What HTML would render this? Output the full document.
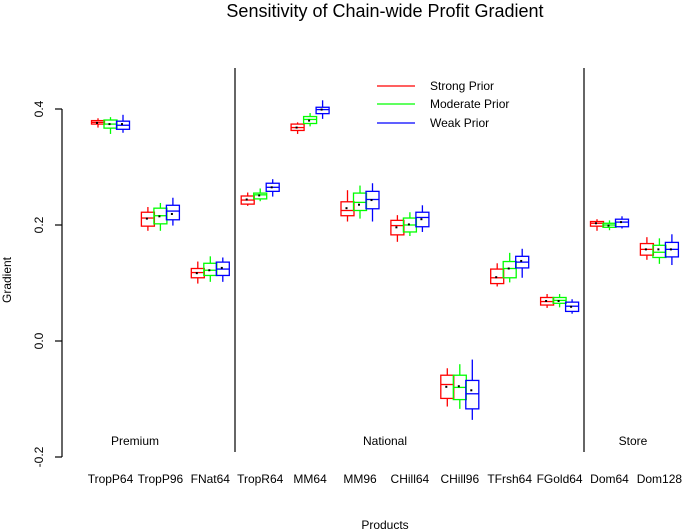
<!DOCTYPE html>
<html><head><meta charset="utf-8"><style>
body{margin:0;background:#fff}
svg{display:block;font-family:"Liberation Sans",sans-serif}
</style></head><body>
<svg id="chart" width="682" height="531" viewBox="0 0 682 531" xmlns="http://www.w3.org/2000/svg">
<text x="385" y="17" font-size="18" text-anchor="middle">Sensitivity of Chain-wide Profit Gradient</text>
<text transform="translate(11,280) rotate(-90)" font-size="12" text-anchor="middle">Gradient</text>
<text x="385" y="529" font-size="12" text-anchor="middle">Products</text>
<g id="axis"></g>
<g id="marks"></g>
<g>
 <g><line x1="377" y1="86" x2="415" y2="86" stroke="#f00" stroke-width="1.3"/><text x="430" y="90" font-size="12">Strong Prior</text></g>
 <g><line x1="377" y1="104" x2="415" y2="104" stroke="#0f0" stroke-width="1.3"/><text x="430" y="108" font-size="12">Moderate Prior</text></g>
 <g><line x1="377" y1="123" x2="415" y2="123" stroke="#00f" stroke-width="1.3"/><text x="430" y="127" font-size="12">Weak Prior</text></g>
</g>
<line x1="235" y1="68" x2="235" y2="452" stroke="#000" stroke-width="1.2"/>
<line x1="584" y1="68" x2="584" y2="452" stroke="#000" stroke-width="1.2"/>
<text x="135" y="445" font-size="12" text-anchor="middle">Premium</text>
<text x="385" y="445" font-size="12" text-anchor="middle">National</text>
<text x="633" y="445" font-size="12" text-anchor="middle">Store</text>
</svg>
<script>
const categories=["TropP64","TropP96","FNat64","TropR64","MM64","MM96","CHill64","CHill96","TFrsh64","FGold64","Dom64","Dom128"];
const seriesNames=["Strong Prior","Moderate Prior","Weak Prior"];
const yTicks=[-0.2,0.0,0.2,0.4];
const yTickLabels=["-0.2","0.0","0.2","0.4"];
// each box: [whiskerLow, q1, median, q3, whiskerHigh]
const strongBoxes=[[0.368,0.374,0.377,0.380,0.384],[0.190,0.198,0.212,0.222,0.231],[0.099,0.109,0.118,0.125,0.137],[0.233,0.236,0.243,0.250,0.256],[0.357,0.363,0.368,0.374,0.377],[0.206,0.216,0.225,0.240,0.260],[0.171,0.183,0.199,0.208,0.217],[-0.113,-0.099,-0.075,-0.059,-0.047],[0.094,0.099,0.109,0.124,0.134],[0.057,0.062,0.068,0.075,0.081],[0.190,0.198,0.203,0.206,0.210],[0.140,0.148,0.158,0.168,0.179]];
const moderateBoxes=[[0.357,0.367,0.374,0.381,0.386],[0.190,0.202,0.216,0.229,0.238],[0.102,0.113,0.122,0.134,0.146],[0.241,0.245,0.252,0.255,0.263],[0.370,0.375,0.382,0.387,0.393],[0.211,0.225,0.239,0.255,0.268],[0.181,0.188,0.200,0.212,0.222],[-0.117,-0.101,-0.080,-0.059,-0.040],[0.101,0.109,0.125,0.137,0.152],[0.058,0.065,0.070,0.075,0.081],[0.191,0.196,0.200,0.203,0.208],[0.133,0.144,0.153,0.165,0.177]];
const weakBoxes=[[0.359,0.365,0.372,0.379,0.390],[0.199,0.209,0.224,0.234,0.247],[0.102,0.113,0.124,0.136,0.144],[0.249,0.258,0.265,0.272,0.279],[0.383,0.392,0.399,0.403,0.415],[0.206,0.228,0.244,0.258,0.272],[0.188,0.197,0.213,0.222,0.234],[-0.136,-0.117,-0.091,-0.068,-0.032],[0.109,0.126,0.136,0.146,0.159],[0.047,0.051,0.060,0.067,0.072],[0.194,0.197,0.205,0.210,0.215],[0.131,0.145,0.158,0.170,0.184]];
const strongMeans=[0.376,0.211,0.117,0.244,0.368,0.229,0.196,-0.079,0.110,0.069,0.203,0.158];
const moderateMeans=[0.374,0.215,0.122,0.251,0.380,0.235,0.201,-0.078,0.125,0.069,0.199,0.158];
const weakMeans=[0.374,0.219,0.126,0.265,0.399,0.243,0.210,-0.085,0.138,0.059,0.205,0.158];

const NS="http://www.w3.org/2000/svg";
const colors=["#f00","#0f0","#00f"];
function yScale(v){return 341-580*v;}
function xCenter(i){return 110.5+49.9*i;}
const boxW=13, offs=[-12.5,0,12.5];
function mk(tag,attrs,parent){const e=document.createElementNS(NS,tag);for(const k in attrs)e.setAttribute(k,attrs[k]);parent.appendChild(e);return e;}
const axis=document.getElementById('axis');
let al=mk('line',{x1:62,x2:62,y1:yScale(0.4),y2:yScale(-0.2),stroke:'#000','stroke-width':1.2},axis);


yTicks.forEach((t,i)=>{
 const tk=mk('line',{x1:55,x2:62,y1:yScale(t),y2:yScale(t),stroke:'#000','stroke-width':1.2},axis);
 
 
 const tx=mk('text',{transform:`translate(43,${yScale(t)}) rotate(-90)`,'font-size':12,'text-anchor':'middle'},axis);
 tx.textContent=yTickLabels[i];
 
 
});
const marks=document.getElementById('marks');
const allBoxes=[strongBoxes,moderateBoxes,weakBoxes];
const allMeans=[strongMeans,moderateMeans,weakMeans];
categories.forEach((c,i)=>{
 const lbl=mk('text',{x:xCenter(i),y:483,'font-size':12,'text-anchor':'middle'},marks);
 lbl.textContent=c;
 
 
 for(let s=0;s<3;s++){
  const b=allBoxes[s][i], cx=xCenter(i)+offs[s], col=colors[s];
  const g=mk('g',{stroke:col,'stroke-width':1.3,fill:'none'},marks);
  
  
  mk('line',{x1:cx,x2:cx,y1:yScale(b[0]),y2:yScale(b[1])},g);
  mk('line',{x1:cx,x2:cx,y1:yScale(b[3]),y2:yScale(b[4])},g);
  mk('rect',{x:cx-boxW/2,y:yScale(b[3]),width:boxW,height:yScale(b[1])-yScale(b[3])},g);
  mk('line',{x1:cx-boxW/2,x2:cx+boxW/2,y1:yScale(b[2]),y2:yScale(b[2])},g);
  const m=mk('rect',{x:cx-2,y:yScale(allMeans[s][i])-1,width:2,height:2,fill:'#000',stroke:'none'},marks);
  
  
 }
});
</script>
</body></html>
